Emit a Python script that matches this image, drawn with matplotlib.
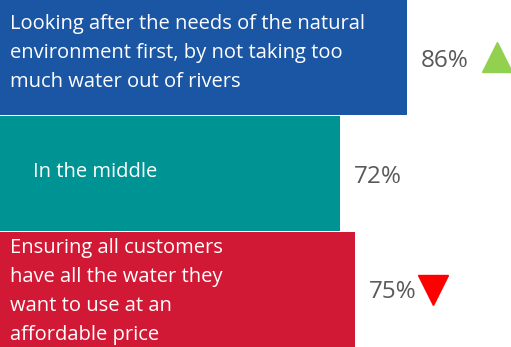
import matplotlib
matplotlib.use('Agg')
import matplotlib.pyplot as plt

plt.rcParams['font.family'] = ['Open Sans', 'DejaVu Sans']

# data
labels = ['Looking after the needs of the natural\nenvironment first, by not taking too\nmuch water out of rivers',
          'In the middle',
          'Ensuring all customers\nhave all the water they\nwant to use at an\naffordable price']
values = [86, 72, 75]
value_text = ['86%', '72%', '75%']
trend = ['up', None, 'down']

colors = ['#1A56A4', '#009393', '#D11834']
# label offsets inside bars (px) and triangle offsets from bar end (px)
label_dx = [10, 33, 10]
label_dy = [5, 2, -2]
tri_dx = [90, 0, 78]

fig = plt.figure(figsize=(5.11, 3.47), dpi=100)
ax = fig.add_axes([0, 0, 1, 1])
ypos = list(range(len(values)))
ax.barh(ypos, values, height=0.995, color=colors)
ax.set_xlim(0, 108.1)
ax.set_ylim(len(values) - 0.5, -0.5)
ax.axis('off')

px = 0.72  # points per pixel
for i, v in enumerate(values):
    ax.annotate(labels[i], xy=(0, i), xytext=(label_dx[i] * px, label_dy[i] * px),
                textcoords='offset points', ha='left', va='center',
                color='white', fontsize=14.5, linespacing=1.6)
    ax.annotate(value_text[i], xy=(v, i), xytext=(14 * px, -3 * px),
                textcoords='offset points', ha='left', va='center',
                color='#595959', fontsize=17.5)
    if trend[i] == 'up':
        ax.plot([v], [i], marker='^', color='#92D050', markersize=21, linestyle='none',
                transform=ax.transData + matplotlib.transforms.ScaledTranslation(tri_dx[i] / 100, 1 / 100, fig.dpi_scale_trans))
    elif trend[i] == 'down':
        ax.plot([v], [i], marker='v', color='#FF0000', markersize=21, linestyle='none',
                transform=ax.transData + matplotlib.transforms.ScaledTranslation(tri_dx[i] / 100, -1 / 100, fig.dpi_scale_trans))

fig.savefig('out.png', dpi=100)
